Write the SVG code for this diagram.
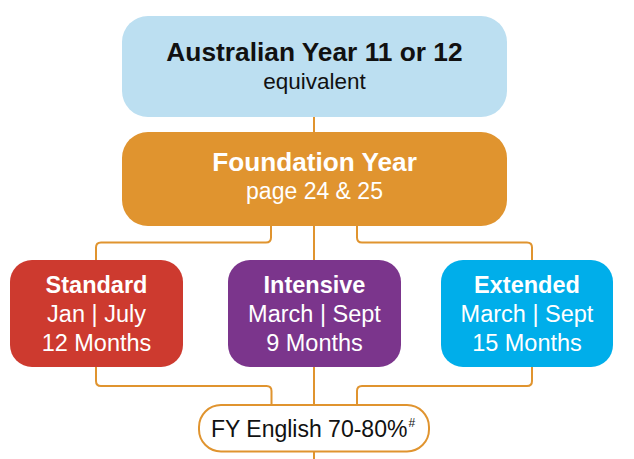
<svg xmlns="http://www.w3.org/2000/svg" width="634" height="459" viewBox="0 0 634 459">
<style>
.t{font-family:"Liberation Sans",Arial,Helvetica,sans-serif;text-anchor:middle}
.b{font-weight:bold}
.w{fill:#ffffff}
.k{fill:#111111}
.c{fill:none;stroke:#e0942f;stroke-width:2}
</style>
<rect width="634" height="459" fill="#ffffff"/>
<g id="connectors">
<path class="c" d="M314,116 V133"/>
<path class="c" d="M314,225 V261"/>
<path class="c" d="M271,225 V237.5 Q271,242.5 266,242.5 H101 Q96,242.5 96,247.5 V261"/>
<path class="c" d="M357,225 V237.5 Q357,242.5 362,242.5 H527 Q532,242.5 532,247.5 V261"/>
<path class="c" d="M314,366 V405"/>
<path class="c" d="M96,366 V381 Q96,386 101,386 H266.5 Q271.5,386 271.5,391 V405"/>
<path class="c" d="M532,366 V381 Q532,386 527,386 H362 Q357,386 357,391 V405"/>
<path class="c" d="M314,451 V459"/>
</g>
<g id="node-australian">
<rect x="122" y="16" width="385" height="101" rx="26" fill="#bcdff1"/>
<text class="t b k" x="314.5" y="61" font-size="26.3">Australian Year 11 or 12</text>
<text class="t k" x="314.5" y="89" font-size="22.5">equivalent</text>
</g>
<g id="node-foundation">
<rect x="122" y="132" width="385" height="94" rx="26" fill="#e0942f"/>
<text class="t b w" x="314.5" y="171" font-size="26.2">Foundation Year</text>
<text class="t w" x="314.5" y="199" font-size="23">page 24 &amp; 25</text>
</g>
<g id="node-standard">
<rect x="10" y="260" width="173" height="107" rx="22" fill="#cd3a2f"/>
<text class="t b w" x="96.5" y="292.5" font-size="23.5">Standard</text>
<text class="t w" x="96.5" y="322" font-size="23.5">Jan | July</text>
<text class="t w" x="96.5" y="350.5" font-size="23.5">12 Months</text>
</g>
<g id="node-intensive">
<rect x="228" y="260" width="173" height="107" rx="22" fill="#7b358c"/>
<text class="t b w" x="314.5" y="292.5" font-size="23.5">Intensive</text>
<text class="t w" x="314.5" y="322" font-size="23.5">March | Sept</text>
<text class="t w" x="314.5" y="350.5" font-size="23.5">9 Months</text>
</g>
<g id="node-extended">
<rect x="441" y="260" width="172" height="107" rx="22" fill="#00aeea"/>
<text class="t b w" x="527" y="292.5" font-size="23.5">Extended</text>
<text class="t w" x="527" y="322" font-size="23.5">March | Sept</text>
<text class="t w" x="527" y="350.5" font-size="23.5">15 Months</text>
</g>
<g id="node-fy-english">
<rect x="199" y="405" width="230" height="46.5" rx="22" fill="#ffffff" stroke="#e0942f" stroke-width="2"/>
<text class="t k" x="313" y="437" font-size="23">FY English 70-80%<tspan font-size="12" dx="1" dy="-10">#</tspan></text>
</g>
</svg>
